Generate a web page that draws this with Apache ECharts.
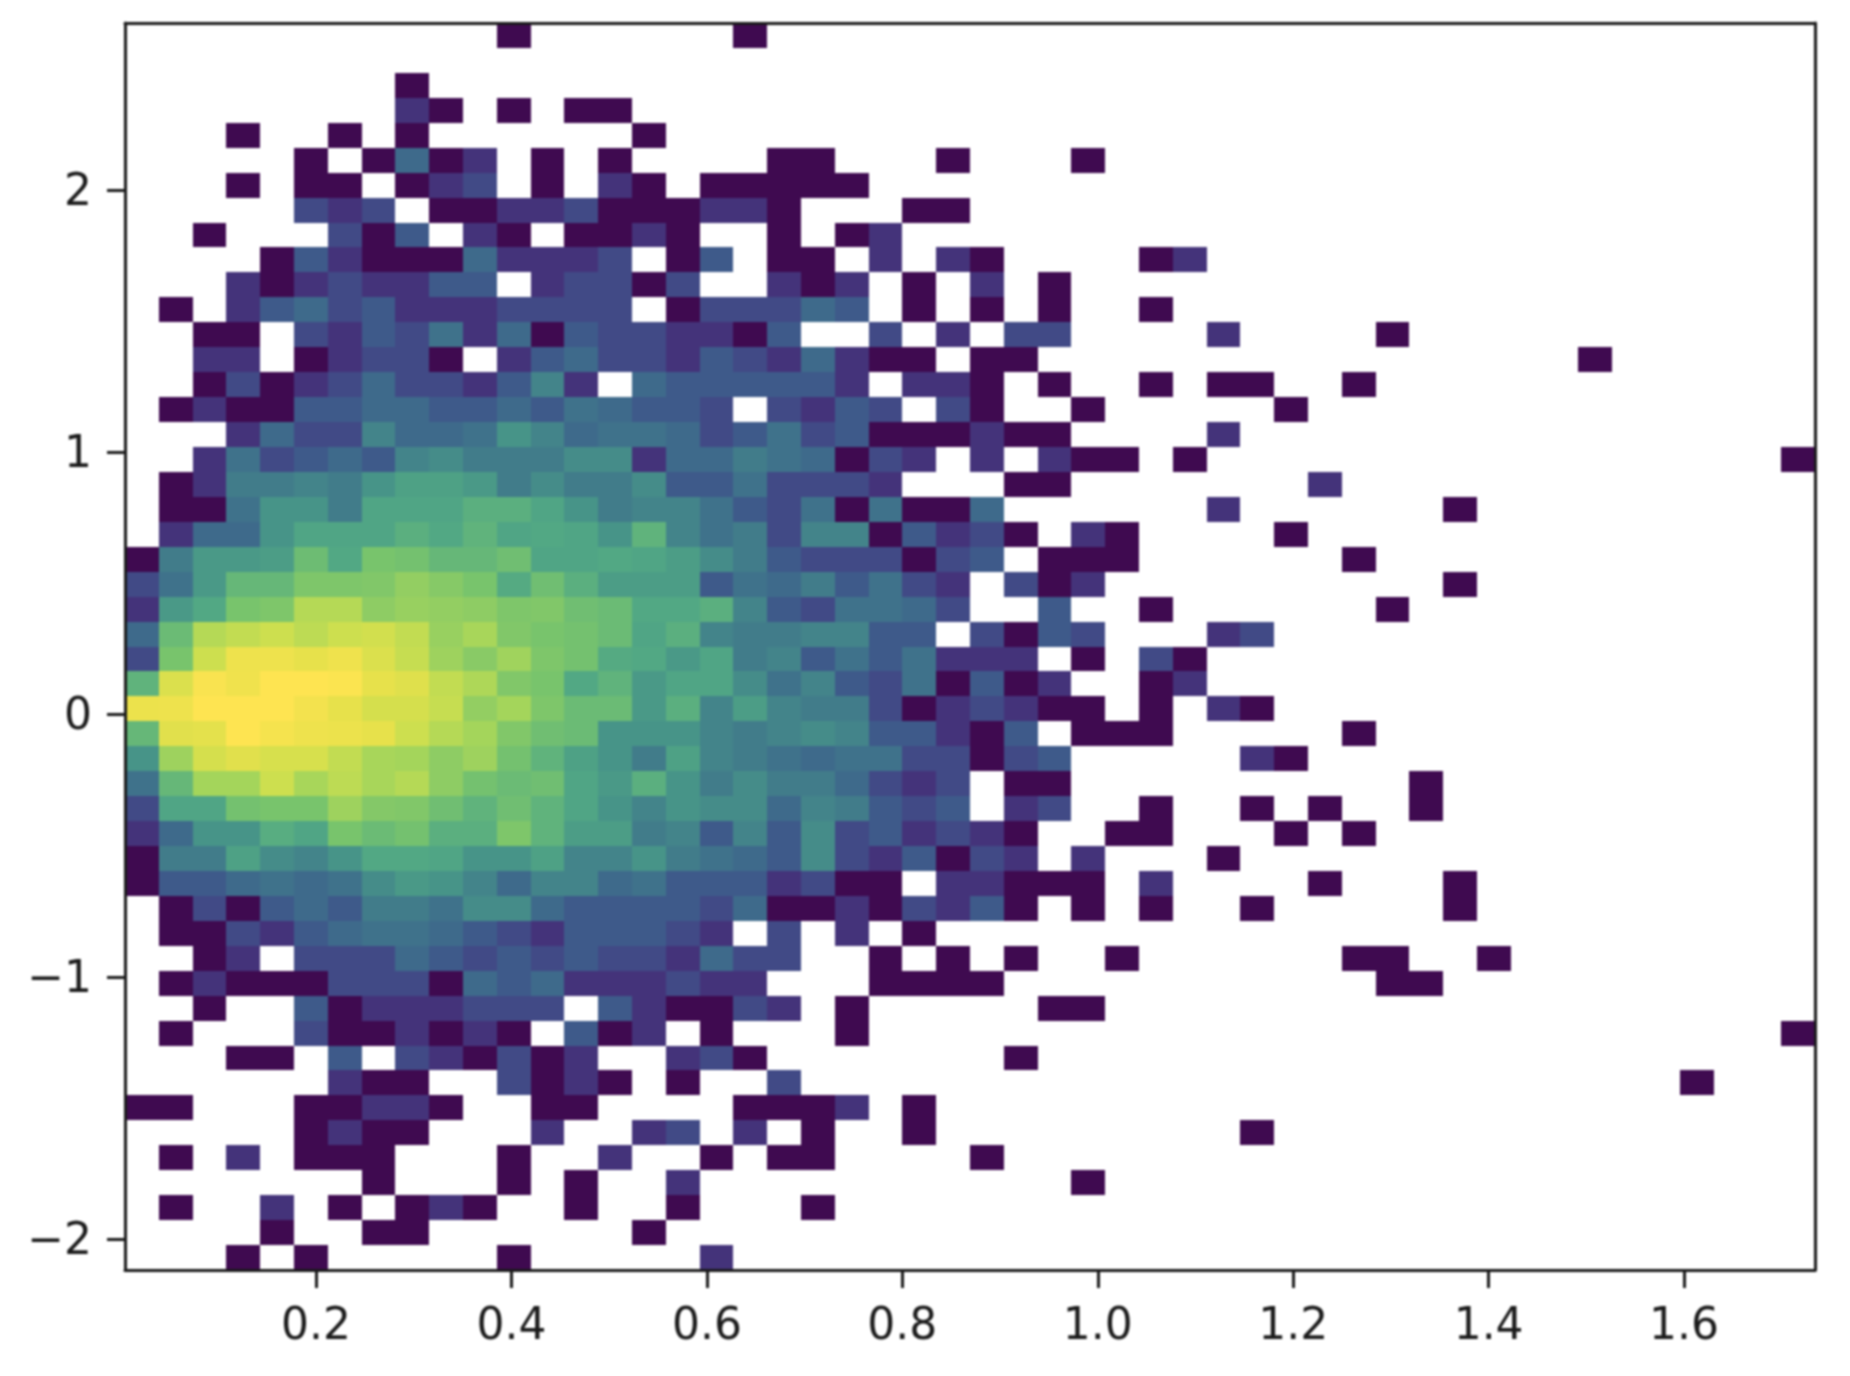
<!DOCTYPE html>
<html>
<head>
<meta charset="utf-8">
<style>
html,body{margin:0;padding:0;background:#fff}
#chart{width:1850px;height:1376px;filter:blur(1px)}
</style>
<script src="https://cdn.jsdelivr.net/npm/echarts@6/dist/echarts.min.js"></script>
</head>
<body>
<div id="chart"></div>
<script>
// Extent of the histogram and tick labels
const xExtent = [0.0045, 1.734];
const yExtent = [-2.118, 2.637];
const xTicks = [0.2, 0.4, 0.6, 0.8, 1.0, 1.2, 1.4, 1.6];
const yTicks = [-2, -1, 0, 1, 2];

// Counts per bin; row00 is the top row, column 0 the left one
const row00 = [0,0,0,0,0,0,0,0,0,0,0,1,0,0,0,0,0,0,1];
const row01 = [];
const row02 = [0,0,0,0,0,0,0,0,1];
const row03 = [0,0,0,0,0,0,0,0,2,1,0,1,0,1,1];
const row04 = [0,0,0,1,0,0,1,0,1,0,0,0,0,0,0,1];
const row05 = [0,0,0,0,0,1,0,1,5,1,2,0,1,0,1,0,0,0,0,1,1,0,0,0,1,0,0,0,1];
const row06 = [0,0,0,1,0,1,1,0,1,2,3,0,1,0,2,1,0,1,1,1,1,1];
const row07 = [0,0,0,0,0,3,2,3,0,1,1,2,2,3,1,1,1,2,2,1,0,0,0,1,1];
const row08 = [0,0,1,0,0,0,3,1,4,0,2,1,0,1,1,2,1,0,0,1,0,1,2];
const row09 = [0,0,0,0,1,4,2,1,1,1,5,2,2,2,3,0,1,4,0,1,1,0,2,0,2,1,0,0,0,0,1,2];
const row10 = [0,0,0,2,1,2,3,2,2,4,4,0,2,3,3,1,3,0,0,2,1,2,0,1,0,2,0,1];
const row11 = [0,1,0,2,4,5,3,4,2,2,2,3,3,3,3,0,1,3,3,3,5,4,0,1,0,1,0,1,0,0,1];
const row12 = [0,0,1,1,0,3,2,4,3,6,2,5,1,4,3,3,2,2,1,4,0,0,3,0,2,0,3,3,0,0,0,0,2,0,0,0,0,1];
const row13 = [0,0,2,2,0,1,2,3,3,1,0,2,4,5,3,3,2,4,3,2,5,2,1,1,0,1,1,0,0,0,0,0,0,0,0,0,0,0,0,0,0,0,0,1];
const row14 = [0,0,1,3,1,2,3,5,3,3,2,4,8,2,0,5,4,4,4,4,4,2,0,2,2,1,0,1,0,0,1,0,1,1,0,0,1];
const row15 = [0,1,2,1,1,4,4,5,5,4,4,5,4,6,5,4,4,3,0,3,2,4,3,0,3,1,0,0,1,0,0,0,0,0,1];
const row16 = [0,0,0,2,5,3,3,8,5,5,6,10,8,5,6,6,5,3,4,6,3,4,1,1,1,2,1,1,0,0,0,0,2];
const row17 = [0,0,2,6,3,4,5,4,8,9,7,7,7,9,9,2,5,5,7,6,5,1,3,2,0,2,0,2,1,1,0,1,0,0,0,0,0,0,0,0,0,0,0,0,0,0,0,0,0,1];
const row18 = [0,1,2,7,7,8,7,10,13,13,11,7,9,7,7,9,4,4,6,3,3,3,2,0,0,0,1,1,0,0,0,0,0,0,0,2];
const row19 = [0,1,1,6,10,10,7,14,14,14,18,18,14,10,7,8,8,6,4,3,6,1,6,1,1,5,0,0,0,0,0,0,2,0,0,0,0,0,0,1];
const row20 = [0,2,5,5,10,14,14,14,18,15,20,14,15,14,10,20,8,6,7,3,8,8,1,4,2,3,1,0,2,1,0,0,0,0,1];
const row21 = [1,7,11,11,12,25,15,30,28,22,22,26,14,14,15,14,12,9,7,4,3,3,3,1,3,4,0,1,1,1,0,0,0,0,0,0,1];
const row22 = [3,6,11,22,22,32,32,33,40,35,30,16,26,18,12,12,12,4,6,5,7,4,6,3,2,0,3,1,2,0,0,0,0,0,0,0,0,0,0,1];
const row23 = [2,11,15,30,32,55,55,38,42,40,38,32,33,26,24,15,15,18,8,4,3,6,6,5,3,0,0,4,0,0,1,0,0,0,0,0,0,1];
const row24 = [5,24,55,60,65,58,65,68,60,42,50,33,30,28,24,14,18,8,7,7,8,8,4,4,0,3,1,4,3,0,0,0,2,3];
const row25 = [3,30,65,92,92,85,93,75,62,45,36,46,32,28,16,15,11,14,7,8,4,6,4,6,2,2,2,0,1,0,3,1];
const row26 = [20,75,105,95,118,118,108,85,78,60,52,33,30,15,20,11,14,14,9,6,8,4,3,6,1,4,1,2,0,0,1,2];
const row27 = [90,92,120,115,112,98,85,70,70,62,40,48,32,24,24,11,18,8,12,8,7,7,3,1,2,3,2,1,1,0,1,0,2,1];
const row28 = [22,80,82,118,100,92,90,85,65,55,48,33,26,24,10,10,10,8,7,8,9,8,4,4,2,1,4,0,1,1,1,0,0,0,0,0,1];
const row29 = [10,45,70,80,72,72,60,50,48,38,45,28,20,13,10,7,13,8,7,6,5,6,6,3,3,1,3,4,0,0,0,0,0,2,1];
const row30 = [6,22,48,48,65,50,58,50,55,38,28,24,26,14,11,18,10,7,9,7,7,5,3,2,3,0,1,1,0,0,0,0,0,0,0,0,0,0,1];
const row31 = [3,14,14,28,30,30,45,34,33,26,20,26,20,14,10,8,10,9,9,5,8,7,4,3,4,0,2,3,0,0,1,0,0,1,0,1,0,0,1];
const row32 = [2,5,10,10,17,14,30,24,28,18,18,32,20,12,12,7,8,4,8,4,9,3,4,2,3,2,1,0,0,1,1,0,0,0,1,0,1];
const row33 = [1,7,7,13,9,8,10,15,15,14,10,10,13,8,8,10,7,6,5,4,9,3,2,4,1,3,2,0,2,0,0,0,1];
const row34 = [1,4,4,5,6,5,6,9,11,10,8,5,8,8,5,6,4,4,4,2,3,1,1,0,2,2,1,1,1,0,2,0,0,0,0,1,0,0,0,1];
const row35 = [0,1,3,1,4,5,4,7,7,6,9,9,5,4,4,4,4,3,5,1,1,2,1,3,2,4,1,0,1,0,1,0,0,1,0,0,0,0,0,1];
const row36 = [0,1,1,3,2,4,5,6,6,5,4,3,2,4,4,4,3,2,0,3,0,2,0,1];
const row37 = [0,0,1,2,0,3,3,3,5,4,3,4,3,4,3,3,2,5,3,3,0,0,1,0,1,0,1,0,0,1,0,0,0,0,0,0,1,1,0,0,1];
const row38 = [0,1,2,1,1,1,3,3,3,1,5,4,5,2,2,2,3,2,2,0,0,0,1,1,1,1,0,0,0,0,0,0,0,0,0,0,0,1,1];
const row39 = [0,0,1,0,0,4,1,2,2,2,3,3,3,0,4,2,1,1,3,2,0,1,0,0,0,0,0,1,1];
const row40 = [0,1,0,0,0,3,1,1,2,1,2,1,0,4,1,2,0,1,0,0,0,1,0,0,0,0,0,0,0,0,0,0,0,0,0,0,0,0,0,0,0,0,0,0,0,0,0,0,0,1];
const row41 = [0,0,0,1,1,0,4,0,3,2,1,3,1,2,0,0,2,3,1,0,0,0,0,0,0,0,1];
const row42 = [0,0,0,0,0,0,2,1,1,0,0,3,1,2,1,0,1,0,0,3,0,0,0,0,0,0,0,0,0,0,0,0,0,0,0,0,0,0,0,0,0,0,0,0,0,0,1];
const row43 = [1,1,0,0,0,1,1,2,2,1,0,0,1,1,0,0,0,0,1,1,1,2,0,1];
const row44 = [0,0,0,0,0,1,2,1,1,0,0,0,2,0,0,2,3,0,2,0,1,0,0,1,0,0,0,0,0,0,0,0,0,1];
const row45 = [0,1,0,2,0,1,1,1,0,0,0,1,0,0,2,0,0,1,0,1,1,0,0,0,0,1];
const row46 = [0,0,0,0,0,0,0,1,0,0,0,1,0,1,0,0,2,0,0,0,0,0,0,0,0,0,0,0,1];
const row47 = [0,1,0,0,2,0,1,0,1,2,1,0,0,1,0,0,1,0,0,0,1];
const row48 = [0,0,0,0,1,0,0,1,1,0,0,0,0,0,0,1];
const row49 = [0,0,0,1,0,1,0,0,0,0,0,1,0,0,0,0,0,2];

const rows = [row00,row01,row02,row03,row04,row05,row06,row07,row08,row09,
              row10,row11,row12,row13,row14,row15,row16,row17,row18,row19,
              row20,row21,row22,row23,row24,row25,row26,row27,row28,row29,
              row30,row31,row32,row33,row34,row35,row36,row37,row38,row39,
              row40,row41,row42,row43,row44,row45,row46,row47,row48,row49];

// Colour scale on log counts
const stopCounts = [1,2,3,4,5,6,8,10,15,20,30,50,66,86,112];
const stopColors = ['#3f0a50','#44337a','#414a86','#3e5a8a','#3e6a8b','#3f728b','#43848a','#479488','#52a884','#60b37c','#78c46c','#a8d65a','#cfdf4e','#e8e14b','#fee451'];
function colorOf(count){
  let i = 0;
  while(i < stopCounts.length-2 && count > stopCounts[i+1]) i++;
  const f = (Math.log(count)-Math.log(stopCounts[i]))/(Math.log(stopCounts[i+1])-Math.log(stopCounts[i]));
  return echarts.color.lerp(Math.min(1,Math.max(0,f)), [stopColors[i], stopColors[i+1]]);
}

const nBins = 50;
const dx = (xExtent[1]-xExtent[0])/nBins;
const dy = (yExtent[1]-yExtent[0])/nBins;
const cells = [];
rows.forEach((row, r) => row.forEach((count, c) => {
  if(count > 0) cells.push([xExtent[0]+c*dx, yExtent[1]-r*dy, xExtent[0]+(c+1)*dx, yExtent[1]-(r+1)*dy, count]);
}));

const ink = '#1a1a1a';
const labelStyle = {fontFamily:'DejaVu Sans', fontSize:44, color:ink};
const chart = echarts.init(document.getElementById('chart'), null, {renderer:'canvas'});
chart.setOption({
  animation:false,
  backgroundColor:'#ffffff',
  grid:{left:125, right:35, top:23, bottom:106, containLabel:false},
  xAxis:[
    {type:'value', min:xExtent[0], max:xExtent[1], position:'bottom', z:10,
     splitLine:{show:false},
     axisLine:{show:true, onZero:false, lineStyle:{color:ink, width:3}},
     axisTick:{show:true, length:18, inside:false, customValues:xTicks, lineStyle:{color:ink, width:3}},
     axisLabel:{show:true, margin:36, customValues:xTicks, formatter:v=>Number(v).toFixed(1), ...labelStyle}},
    {type:'value', min:xExtent[0], max:xExtent[1], position:'top', z:10,
     splitLine:{show:false},
     axisLine:{show:true, onZero:false, lineStyle:{color:ink, width:3}},
     axisTick:{show:false}, axisLabel:{show:false}}
  ],
  yAxis:[
    {type:'value', min:yExtent[0], max:yExtent[1], position:'left', z:10,
     splitLine:{show:false},
     axisLine:{show:true, onZero:false, lineStyle:{color:ink, width:3}},
     axisTick:{show:true, length:18, inside:false, customValues:yTicks, lineStyle:{color:ink, width:3}},
     axisLabel:{show:true, margin:33, customValues:yTicks,
       formatter:v=>'{d|'+String(Math.round(v)).replace('-','\u2212')+'}',
       ...labelStyle,
       rich:{d:{...labelStyle, padding:[7,0,0,0]}}}},
    {type:'value', min:yExtent[0], max:yExtent[1], position:'right', z:10,
     splitLine:{show:false},
     axisLine:{show:true, onZero:false, lineStyle:{color:ink, width:3}},
     axisTick:{show:false}, axisLabel:{show:false}}
  ],
  series:[{
    type:'custom',
    coordinateSystem:'cartesian2d',
    silent:true,
    z:2,
    clip:true,
    data:cells,
    encode:{x:[0,2], y:[1,3]},
    renderItem:(params, api)=>{
      const a = api.coord([api.value(0), api.value(1)]);
      const b = api.coord([api.value(2), api.value(3)]);
      const x0 = Math.round(a[0]), y0 = Math.round(a[1]);
      const x1 = Math.round(b[0]), y1 = Math.round(b[1]);
      return {type:'rect', shape:{x:x0, y:y0, width:x1-x0, height:y1-y0},
              style:{fill:colorOf(api.value(4))}};
    }
  }]
});
</script>
</body>
</html>
